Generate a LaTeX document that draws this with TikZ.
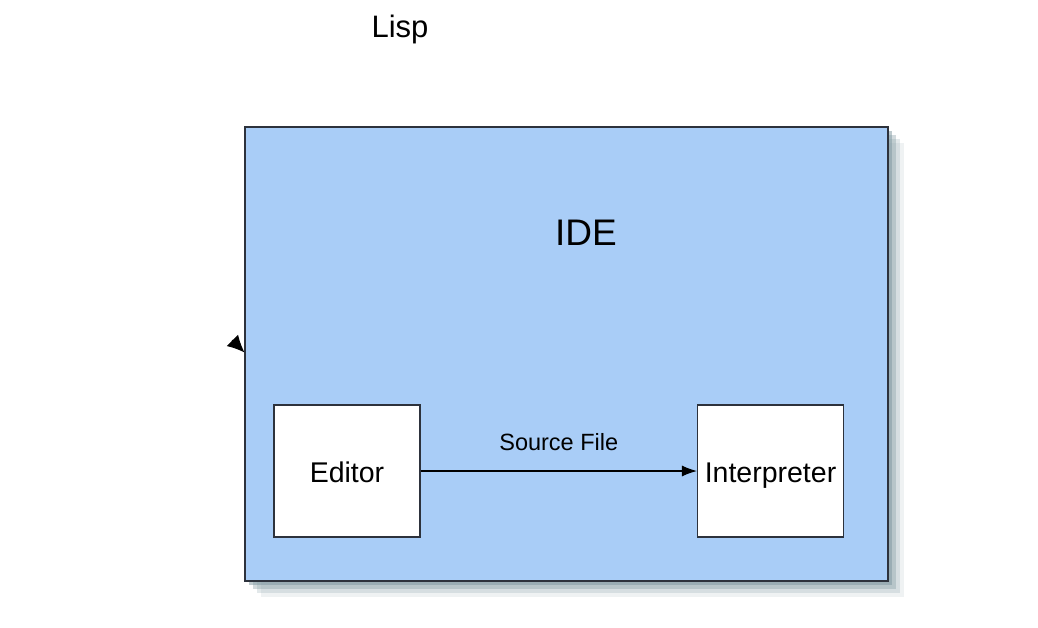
\documentclass[tikz,border=0pt]{standalone}
\usepackage{fontspec}
\setmainfont{Liberation Sans}
\usetikzlibrary{arrows.meta,shadows,positioning}

\definecolor{idefill}{RGB}{169,205,247}
\definecolor{edgegray}{RGB}{45,50,60}
\definecolor{shadowgray}{RGB}{125,150,158}

\tikzset{
  idebox/.style={draw=edgegray, line width=1.3pt, fill=idefill, inner sep=0pt,
    minimum width=643pt, minimum height=454pt,
    drop shadow={shadow xshift=16pt, shadow yshift=-16pt, fill=shadowgray, opacity=.12},
    drop shadow={shadow xshift=12pt, shadow yshift=-12pt, fill=shadowgray, opacity=.22},
    drop shadow={shadow xshift=8pt, shadow yshift=-8pt, fill=shadowgray, opacity=.35},
    drop shadow={shadow xshift=4pt, shadow yshift=-4pt, fill=shadowgray, opacity=.5}},
  toolbox/.style={draw=edgegray, line width=1.1pt, fill=white, inner sep=0pt,
    minimum width=146pt, minimum height=132pt,
    font=\fontsize{28.5}{32}\selectfont, text height=23pt, text depth=1pt},
  flow/.style={line width=1.2pt, -{Latex[length=15pt,width=11pt]}},
}

\begin{document}
\begin{tikzpicture}[x=1pt,y=-1pt]
\useasboundingbox (0,0) rectangle (1038,628);
% title
\node[anchor=base, font=\fontsize{31}{36}\selectfont] (lisp) at (400,38) {Lisp};
% ide with its two parts
\node[idebox] (ide) at (566.5,354) {};
\node[anchor=base, font=\fontsize{37}{42}\selectfont] (idetitle) at (586,246) {IDE};
\node[toolbox] (editor) at (347,471) {Editor};
\node[toolbox] (interp) at (770.5,471) {Interpreter};
\draw[flow] (editor) -- node[midway, above=12pt, inner sep=7.8pt, text depth=0pt,
  font=\fontsize{23.5}{27}\selectfont] (srcfile) {Source File} (interp);
% stray tip on the left
\coordinate (tipstart) at (232,340);
\coordinate (tipend) at (244.5,352.5);
\draw[line width=1pt, -{Latex[length=17pt,width=16pt]}] (tipstart) -- (tipend);
\end{tikzpicture}
\end{document}
